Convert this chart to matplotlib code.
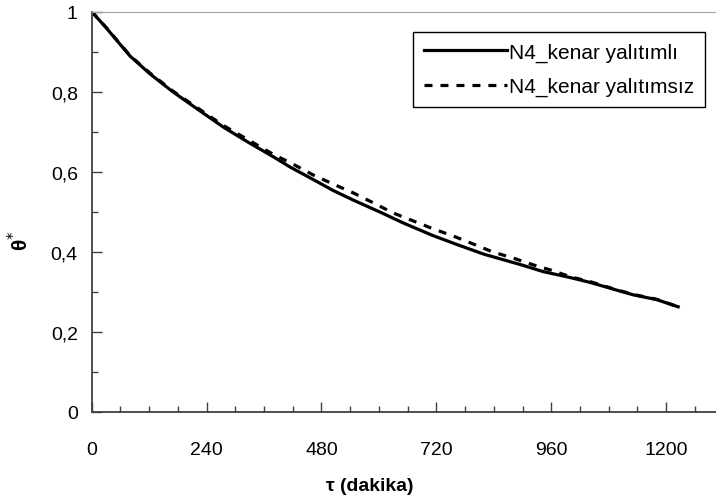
import matplotlib.pyplot as plt
from matplotlib.ticker import MultipleLocator, FuncFormatter

# N4 edge insulated (solid)
t_yalitimli = [0, 32, 80, 122, 170, 220, 274, 326, 378, 415, 463, 504, 546, 602,
               650, 713, 760, 818, 853, 900, 943, 1000, 1041, 1090, 1131, 1180, 1225]
th_yalitimli = [1.0, 0.957, 0.889, 0.844, 0.799, 0.757, 0.712, 0.674, 0.638, 0.611,
                0.580, 0.553, 0.529, 0.499, 0.472, 0.440, 0.419, 0.394, 0.382, 0.366,
                0.350, 0.335, 0.323, 0.306, 0.292, 0.280, 0.262]

# N4 edge not insulated (dashed)
t_yalitimsiz = [0, 32, 80, 122, 170, 220, 274, 326, 378, 420, 462, 504, 546, 588,
                629, 671, 713, 755, 797, 838, 880, 922, 964, 1000, 1041, 1090, 1131, 1180, 1225]
th_yalitimsiz = [1.0, 0.958, 0.890, 0.846, 0.801, 0.760, 0.716, 0.680, 0.644, 0.619,
                 0.592, 0.569, 0.547, 0.522, 0.497, 0.477, 0.457, 0.439, 0.419, 0.399,
                 0.384, 0.367, 0.352, 0.337, 0.325, 0.307, 0.293, 0.281, 0.262]

plt.rcParams['font.family'] = ['Liberation Sans', 'DejaVu Sans']

fig = plt.figure(figsize=(7.16, 5.02), dpi=100)
ax = fig.add_axes([0.128, 0.178, 0.872, 0.797])

ax.plot(t_yalitimli, th_yalitimli, color='black', linewidth=2.3, label='N4_kenar yalıtımlı')
ax.plot(t_yalitimsiz, th_yalitimsiz, color='black', linewidth=2.3, linestyle=(0, (2.5, 2.5)),
        label='N4_kenar yalıtımsız')

ax.set_xlim(0, 1304)
ax.set_ylim(0, 1)
ax.xaxis.set_major_locator(MultipleLocator(240))
ax.xaxis.set_minor_locator(MultipleLocator(60))
ax.yaxis.set_major_locator(MultipleLocator(0.2))
ax.yaxis.set_minor_locator(MultipleLocator(0.1))
ax.yaxis.set_major_formatter(FuncFormatter(lambda v, p: ('%g' % round(v, 1)).replace('.', ',')))

ax.spines['right'].set_visible(False)
ax.spines['top'].set_color('#a0a0a0')
ax.spines['left'].set_color('#404040')
ax.spines['bottom'].set_color('#404040')
ax.spines['left'].set_linewidth(1.3)
ax.spines['bottom'].set_linewidth(1.3)

ax.tick_params(axis='both', which='major', direction='in', length=7, width=1,
               labelsize=14, color='#404040', pad=10)
ax.tick_params(axis='both', which='minor', direction='in', length=4, width=1, color='#404040')
ax.tick_params(axis='x', which='major', pad=21)

ax.set_xlabel('τ (dakika)', fontsize=14, fontweight='bold')
ax.xaxis.set_label_coords(0.445, -0.163)
ax.set_ylabel('θ$^{*}$', fontsize=15, fontweight='bold')
ax.yaxis.set_label_coords(-0.095, 0.43)

leg = ax.legend(loc='upper right', bbox_to_anchor=(0.982, 0.949), fontsize=15,
                fancybox=False, edgecolor='black', framealpha=1, handlelength=4.0,
                handletextpad=0.1, borderpad=0.5, labelspacing=0.75, borderaxespad=0)
leg.get_frame().set_linewidth(1)

fig.savefig('out.png', dpi=100)
